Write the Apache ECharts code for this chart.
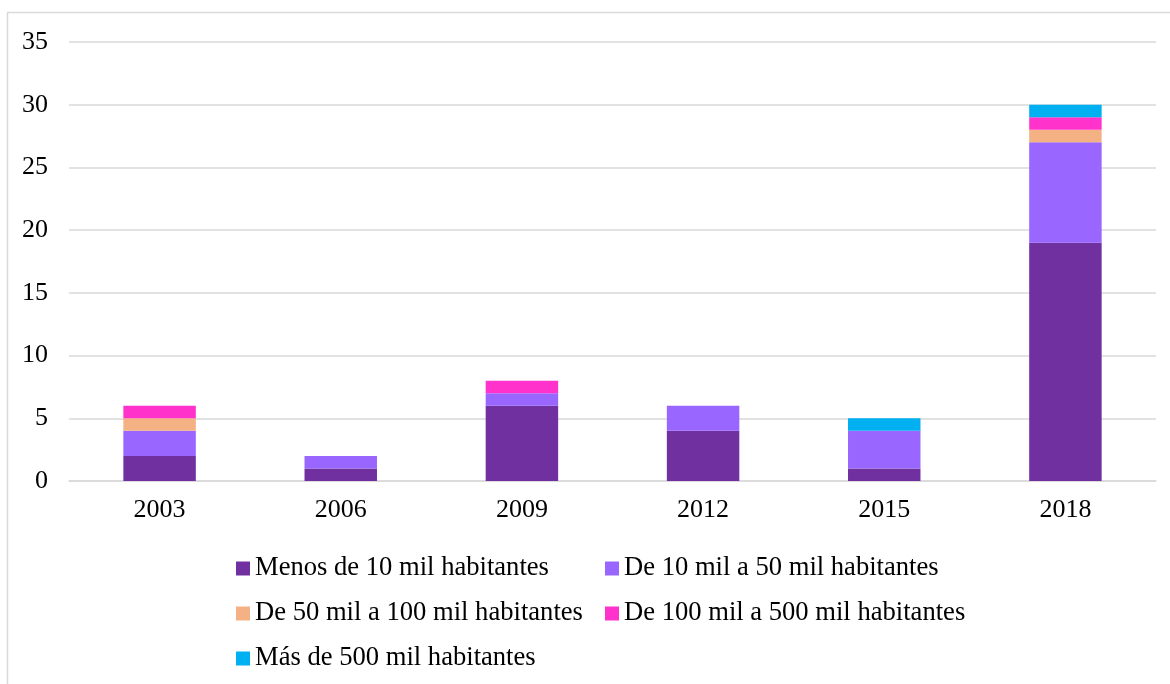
<!DOCTYPE html>
<html>
<head>
<meta charset="utf-8">
<script src="https://cdn.jsdelivr.net/npm/echarts@6/dist/echarts.min.js"></script>
<style>
  html, body { margin: 0; padding: 0; background: #fff; }
  #chart { width: 1170px; height: 684px; }
</style>
</head>
<body>
<div id="chart"></div>
<script>
  // datos
  const years = ['2003', '2006', '2009', '2012', '2015', '2018'];
  const seriesNames = [
    'Menos de 10 mil habitantes',
    'De 10 mil a 50 mil habitantes',
    'De 50 mil a 100 mil habitantes',
    'De 100 mil a 500 mil habitantes',
    'Más de 500 mil habitantes'
  ];
  const menos10 = [2, 1, 6, 4, 1, 19];
  const de10a50 = [2, 1, 1, 2, 3, 8];
  const de50a100 = [1, 0, 0, 0, 0, 1];
  const de100a500 = [1, 0, 1, 0, 0, 1];
  const mas500 = [0, 0, 0, 0, 1, 1];
  const seriesValues = [menos10, de10a50, de50a100, de100a500, mas500];
  const colors = ['#7030A0', '#9966FF', '#F4B183', '#FF33CC', '#00B0F0'];

  const font = '"Liberation Serif", "Times New Roman", serif';

  // posiciones de la leyenda (dos columnas)
  const legendPos = [
    { left: 236, top: 555 },
    { left: 605, top: 555 },
    { left: 236, top: 600 },
    { left: 605, top: 600 },
    { left: 236, top: 645 }
  ];

  const chart = echarts.init(document.getElementById('chart'));

  const option = {
    animation: false,
    backgroundColor: '#fff',
    graphic: [
      {
        type: 'rect',
        shape: { x: 7.5, y: 12.5, width: 1300, height: 800 },
        style: { fill: 'none', stroke: '#d9d9d9', lineWidth: 1.5 },
        silent: true
      }
    ],
    grid: { left: 69, right: 14, top: 42, bottom: 203 },
    legend: seriesNames.map((name, i) => ({
      data: [name],
      left: legendPos[i].left,
      top: legendPos[i].top,
      padding: 0,
      icon: 'rect',
      itemWidth: 14,
      itemHeight: 14,
      textStyle: { fontFamily: font, fontSize: 26.6, color: '#000' },
      selectedMode: false
    })),
    xAxis: {
      type: 'category',
      data: years,
      axisTick: { show: false },
      axisLine: { lineStyle: { color: '#d9d9d9', width: 1.5 } },
      axisLabel: { fontFamily: font, fontSize: 26, color: '#000', margin: 16 }
    },
    yAxis: {
      type: 'value',
      min: 0,
      max: 35,
      interval: 5,
      axisLine: { show: false },
      axisTick: { show: false },
      axisLabel: { fontFamily: font, fontSize: 26, color: '#000', margin: 21 },
      splitLine: { lineStyle: { color: '#d9d9d9', width: 1.5 } }
    },
    series: seriesNames.map((name, i) => ({
      name: name,
      type: 'bar',
      stack: 'total',
      data: seriesValues[i],
      barWidth: '40%',
      itemStyle: { color: colors[i] }
    }))
  };

  chart.setOption(option);
</script>
</body>
</html>
